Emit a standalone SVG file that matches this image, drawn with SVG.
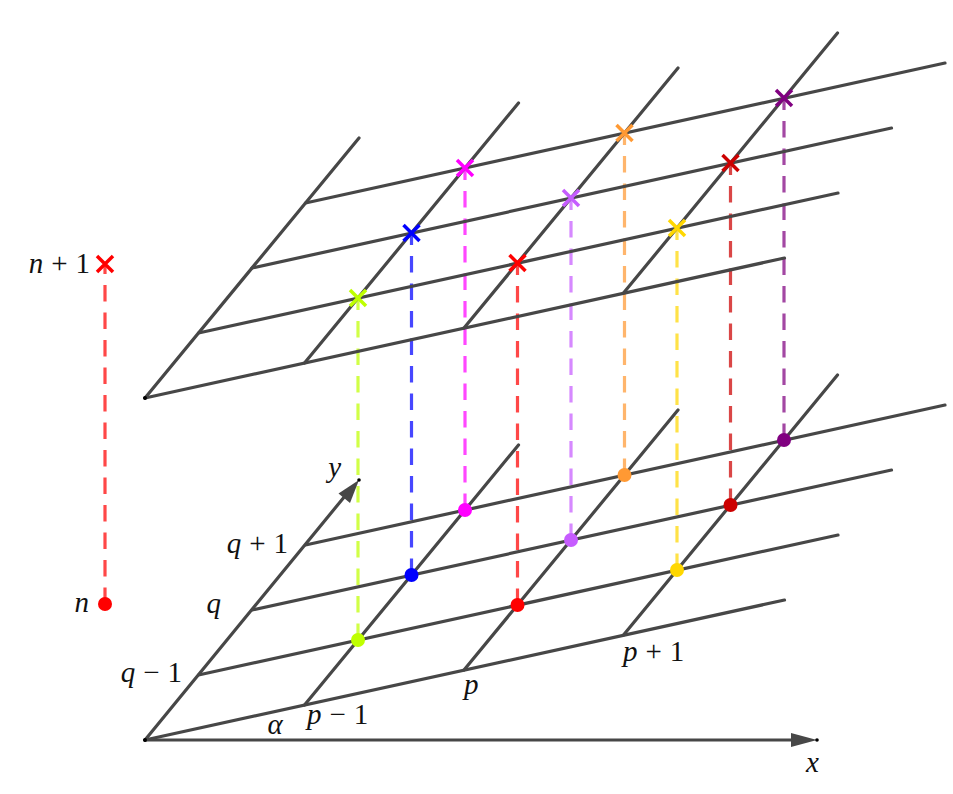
<svg xmlns="http://www.w3.org/2000/svg" width="953" height="794" viewBox="0 0 953 794">
<style>
.g{stroke:#474747;stroke-width:3.2;fill:none;stroke-linecap:round}
.d{stroke-width:3.2;fill:none;stroke-dasharray:16.5 11;opacity:0.72}
.c{stroke-width:3.5;fill:none}
.t{font-family:"Liberation Serif","DejaVu Serif",serif;font-size:29px;fill:#111}
.i{font-style:italic}
</style>
<defs>
<g id="x"><path d="M-8,-8L8,8M-8,8L8,-8"/></g>
</defs>
<rect width="953" height="794" fill="#fff"/>
<g id="connectors">
<line class="d" x1="105" y1="604" x2="105" y2="264" stroke="#ff0000"/>
<line class="d" x1="358" y1="640" x2="358" y2="298" stroke="#bfff00"/>
<line class="d" x1="411.5" y1="575" x2="411.5" y2="233" stroke="#0000ff"/>
<line class="d" x1="465" y1="510" x2="465" y2="168" stroke="#ff00ff"/>
<line class="d" x1="517.5" y1="605" x2="517.5" y2="263" stroke="#ff0000"/>
<line class="d" x1="571" y1="540" x2="571" y2="198" stroke="#c65cff"/>
<line class="d" x1="624.5" y1="475" x2="624.5" y2="133" stroke="#ff9933"/>
<line class="d" x1="677" y1="570" x2="677" y2="228" stroke="#ffd700"/>
<line class="d" x1="730.5" y1="505" x2="730.5" y2="163" stroke="#cc0000"/>
<line class="d" x1="784" y1="440" x2="784" y2="98" stroke="#800080"/>
</g>
<g id="bottom-grid">
<line class="g" x1="145" y1="740" x2="784.5" y2="600"/>
<line class="g" x1="198.5" y1="675" x2="838" y2="535"/>
<line class="g" x1="252" y1="610" x2="891.5" y2="470"/>
<line class="g" x1="305.5" y1="545" x2="945" y2="405"/>
<line class="g" x1="304.5" y1="705" x2="518.5" y2="445"/>
<line class="g" x1="464" y1="670" x2="678" y2="410"/>
<line class="g" x1="623.5" y1="635" x2="837.5" y2="375"/>
<line class="g" x1="145" y1="740" x2="345" y2="496"/>
<path d="M359,480L338.5,493.5L350,503Z" fill="#474747"/>
<line class="g" x1="145" y1="740" x2="795" y2="740"/>
<path d="M817,740L791,733L791,747Z" fill="#474747"/>
<circle cx="145" cy="740" r="2" fill="#000"/>
<circle cx="359" cy="480" r="1.8" fill="#000"/>
<circle cx="817" cy="740" r="1.8" fill="#000"/>
</g>
<g id="top-grid">
<line class="g" x1="145" y1="398" x2="784.5" y2="258"/>
<line class="g" x1="198.5" y1="333" x2="838" y2="193"/>
<line class="g" x1="252" y1="268" x2="891.5" y2="128"/>
<line class="g" x1="305.5" y1="203" x2="945" y2="63"/>
<line class="g" x1="145" y1="398" x2="359" y2="138"/>
<line class="g" x1="304.5" y1="363" x2="518.5" y2="103"/>
<line class="g" x1="464" y1="328" x2="678" y2="68"/>
<line class="g" x1="623.5" y1="293" x2="837.5" y2="33"/>
<circle cx="145" cy="398" r="2" fill="#000"/>
</g>
<g id="dots">
<circle cx="105" cy="604" r="7" fill="#ff0000"/>
<circle cx="358" cy="640" r="7" fill="#bfff00"/>
<circle cx="411.5" cy="575" r="7" fill="#0000ff"/>
<circle cx="465" cy="510" r="7" fill="#ff00ff"/>
<circle cx="517.5" cy="605" r="7" fill="#ff0000"/>
<circle cx="571" cy="540" r="7" fill="#c65cff"/>
<circle cx="624.5" cy="475" r="7" fill="#ff9933"/>
<circle cx="677" cy="570" r="7" fill="#ffd700"/>
<circle cx="730.5" cy="505" r="7" fill="#cc0000"/>
<circle cx="784" cy="440" r="7" fill="#800080"/>
</g>
<g id="crosses">
<use href="#x" x="105" y="264" class="c" stroke="#ff0000"/>
<use href="#x" x="358" y="298" class="c" stroke="#bfff00"/>
<use href="#x" x="411.5" y="233" class="c" stroke="#0000ff"/>
<use href="#x" x="465" y="168" class="c" stroke="#ff00ff"/>
<use href="#x" x="517.5" y="263" class="c" stroke="#ff0000"/>
<use href="#x" x="571" y="198" class="c" stroke="#c65cff"/>
<use href="#x" x="624.5" y="133" class="c" stroke="#ff9933"/>
<use href="#x" x="677" y="228" class="c" stroke="#ffd700"/>
<use href="#x" x="730.5" y="163" class="c" stroke="#cc0000"/>
<use href="#x" x="784" y="98" class="c" stroke="#800080"/>
</g>
<g id="labels">
<text class="t" x="90" y="273" text-anchor="end"><tspan class="i">n</tspan><tspan dx="8">+</tspan><tspan dx="8">1</tspan></text>
<text class="t i" x="89" y="612" text-anchor="end">n</text>
<text class="t i" x="341" y="477" text-anchor="end">y</text>
<text class="t" x="288" y="553" text-anchor="end"><tspan class="i">q</tspan><tspan dx="8">+</tspan><tspan dx="8">1</tspan></text>
<text class="t i" x="221" y="613" text-anchor="end">q</text>
<text class="t" x="182" y="682" text-anchor="end"><tspan class="i">q</tspan><tspan dx="8">−</tspan><tspan dx="8">1</tspan></text>
<text class="t i" x="275" y="734" text-anchor="middle">α</text>
<text class="t" x="307" y="724"><tspan class="i">p</tspan><tspan dx="8">−</tspan><tspan dx="8">1</tspan></text>
<text class="t i" x="464" y="694">p</text>
<text class="t" x="623" y="661"><tspan class="i">p</tspan><tspan dx="8">+</tspan><tspan dx="8">1</tspan></text>
<text class="t i" x="806" y="772">x</text>
</g>
</svg>
